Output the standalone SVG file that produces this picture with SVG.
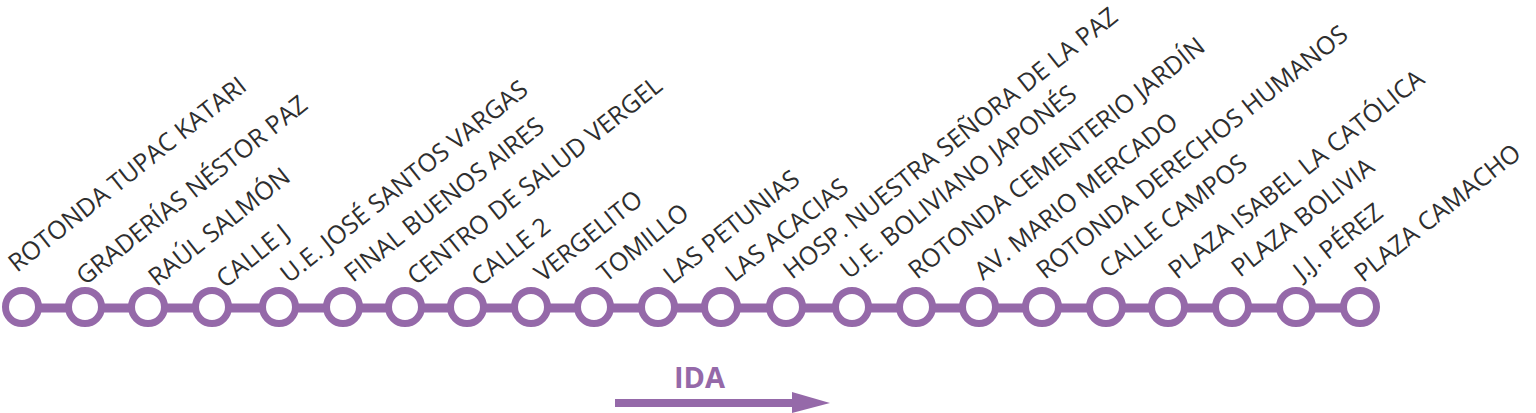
<svg xmlns="http://www.w3.org/2000/svg" width="1536" height="413" viewBox="0 0 1536 413">
<style>
.lbl{font-family:"Open Sans","Noto Sans","Liberation Sans",sans-serif;font-size:25px;fill:#2e2e2e}
.stop{fill:#ffffff;stroke:#9569a9;stroke-width:7}
.line{stroke:#9569a9;stroke-width:9;fill:none}
.ida{font-family:"Open Sans","Liberation Sans",sans-serif;font-weight:700;font-size:29px;fill:#9569a9}
</style>
<rect width="1536" height="413" fill="#ffffff"/>
<g id="connectors">
<line class="line" x1="22" y1="308" x2="1360" y2="308"/>
</g>
<g id="stop1"><circle class="stop" cx="22" cy="307" r="16.5"/><text class="lbl" transform="translate(17,273) rotate(-38.5)">ROTONDA TUPAC KATARI</text></g>
<g id="stop2"><circle class="stop" cx="85" cy="307" r="16.5"/><text class="lbl" transform="translate(85,286) rotate(-38.5)">GRADERÍAS NÉSTOR PAZ</text></g>
<g id="stop3"><circle class="stop" cx="148" cy="307" r="16.5"/><text class="lbl" transform="translate(157,287) rotate(-38.5)">RAÚL SALMÓN</text></g>
<g id="stop4"><circle class="stop" cx="212" cy="307" r="16.5"/><text class="lbl" transform="translate(225,289) rotate(-38.5)">CALLE J</text></g>
<g id="stop5"><circle class="stop" cx="279" cy="307" r="16.5"/><text class="lbl" transform="translate(289,284) rotate(-38.5)">U.E. JOSÉ SANTOS VARGAS</text></g>
<g id="stop6"><circle class="stop" cx="343" cy="307" r="16.5"/><text class="lbl" transform="translate(353,283) rotate(-38.5)">FINAL BUENOS AIRES</text></g>
<g id="stop7"><circle class="stop" cx="405" cy="307" r="16.5"/><text class="lbl" transform="translate(416,286) rotate(-38.5)">CENTRO DE SALUD VERGEL</text></g>
<g id="stop8"><circle class="stop" cx="467" cy="307" r="16.5"/><text class="lbl" transform="translate(480,287) rotate(-38.5)">CALLE 2</text></g>
<g id="stop9"><circle class="stop" cx="531" cy="307" r="16.5"/><text class="lbl" transform="translate(543,283) rotate(-38.5)">VERGELITO</text></g>
<g id="stop10"><circle class="stop" cx="594" cy="307" r="16.5"/><text class="lbl" transform="translate(606,283) rotate(-38.5)">TOMILLO</text></g>
<g id="stop11"><circle class="stop" cx="658" cy="307" r="16.5"/><text class="lbl" transform="translate(672,285) rotate(-38.5)">LAS PETUNIAS</text></g>
<g id="stop12"><circle class="stop" cx="721" cy="307" r="16.5"/><text class="lbl" transform="translate(734,283) rotate(-38.5)">LAS ACACIAS</text></g>
<g id="stop13"><circle class="stop" cx="786" cy="307" r="16.5"/><text class="lbl" transform="translate(792,280) rotate(-38.5)">HOSP. NUESTRA SEÑORA DE LA PAZ</text></g>
<g id="stop14"><circle class="stop" cx="852" cy="307" r="16.5"/><text class="lbl" transform="translate(849,280) rotate(-38.5)">U.E. BOLIVIANO JAPONÉS</text></g>
<g id="stop15"><circle class="stop" cx="916" cy="307" r="16.5"/><text class="lbl" transform="translate(917,280) rotate(-38.5)">ROTONDA CEMENTERIO JARDÍN</text></g>
<g id="stop16"><circle class="stop" cx="979" cy="307" r="16.5"/><text class="lbl" transform="translate(983,281) rotate(-38.5)">AV. MARIO MERCADO</text></g>
<g id="stop17"><circle class="stop" cx="1042" cy="307" r="16.5"/><text class="lbl" transform="translate(1045,280) rotate(-38.5)">ROTONDA DERECHOS HUMANOS</text></g>
<g id="stop18"><circle class="stop" cx="1106" cy="307" r="16.5"/><text class="lbl" transform="translate(1108,279) rotate(-38.5)">CALLE CAMPOS</text></g>
<g id="stop19"><circle class="stop" cx="1168" cy="307" r="16.5"/><text class="lbl" transform="translate(1177,280) rotate(-38.5)">PLAZA ISABEL LA CATÓLICA</text></g>
<g id="stop20"><circle class="stop" cx="1232" cy="307" r="16.5"/><text class="lbl" transform="translate(1240,278) rotate(-38.5)">PLAZA BOLIVIA</text></g>
<g id="stop21"><circle class="stop" cx="1296" cy="307" r="16.5"/><text class="lbl" transform="translate(1302,281) rotate(-38.5)">J.J. PÉREZ</text></g>
<g id="stop22"><circle class="stop" cx="1360" cy="307" r="16.5"/><text class="lbl" transform="translate(1363,283) rotate(-38.5)">PLAZA CAMACHO</text></g>
<g id="direction">
<text class="ida" x="674" y="388">IDA</text>
<line x1="615" y1="403" x2="796" y2="403" stroke="#9569a9" stroke-width="8"/>
<polygon points="792,392 830,403 792,413" fill="#9569a9"/>
</g>
</svg>
